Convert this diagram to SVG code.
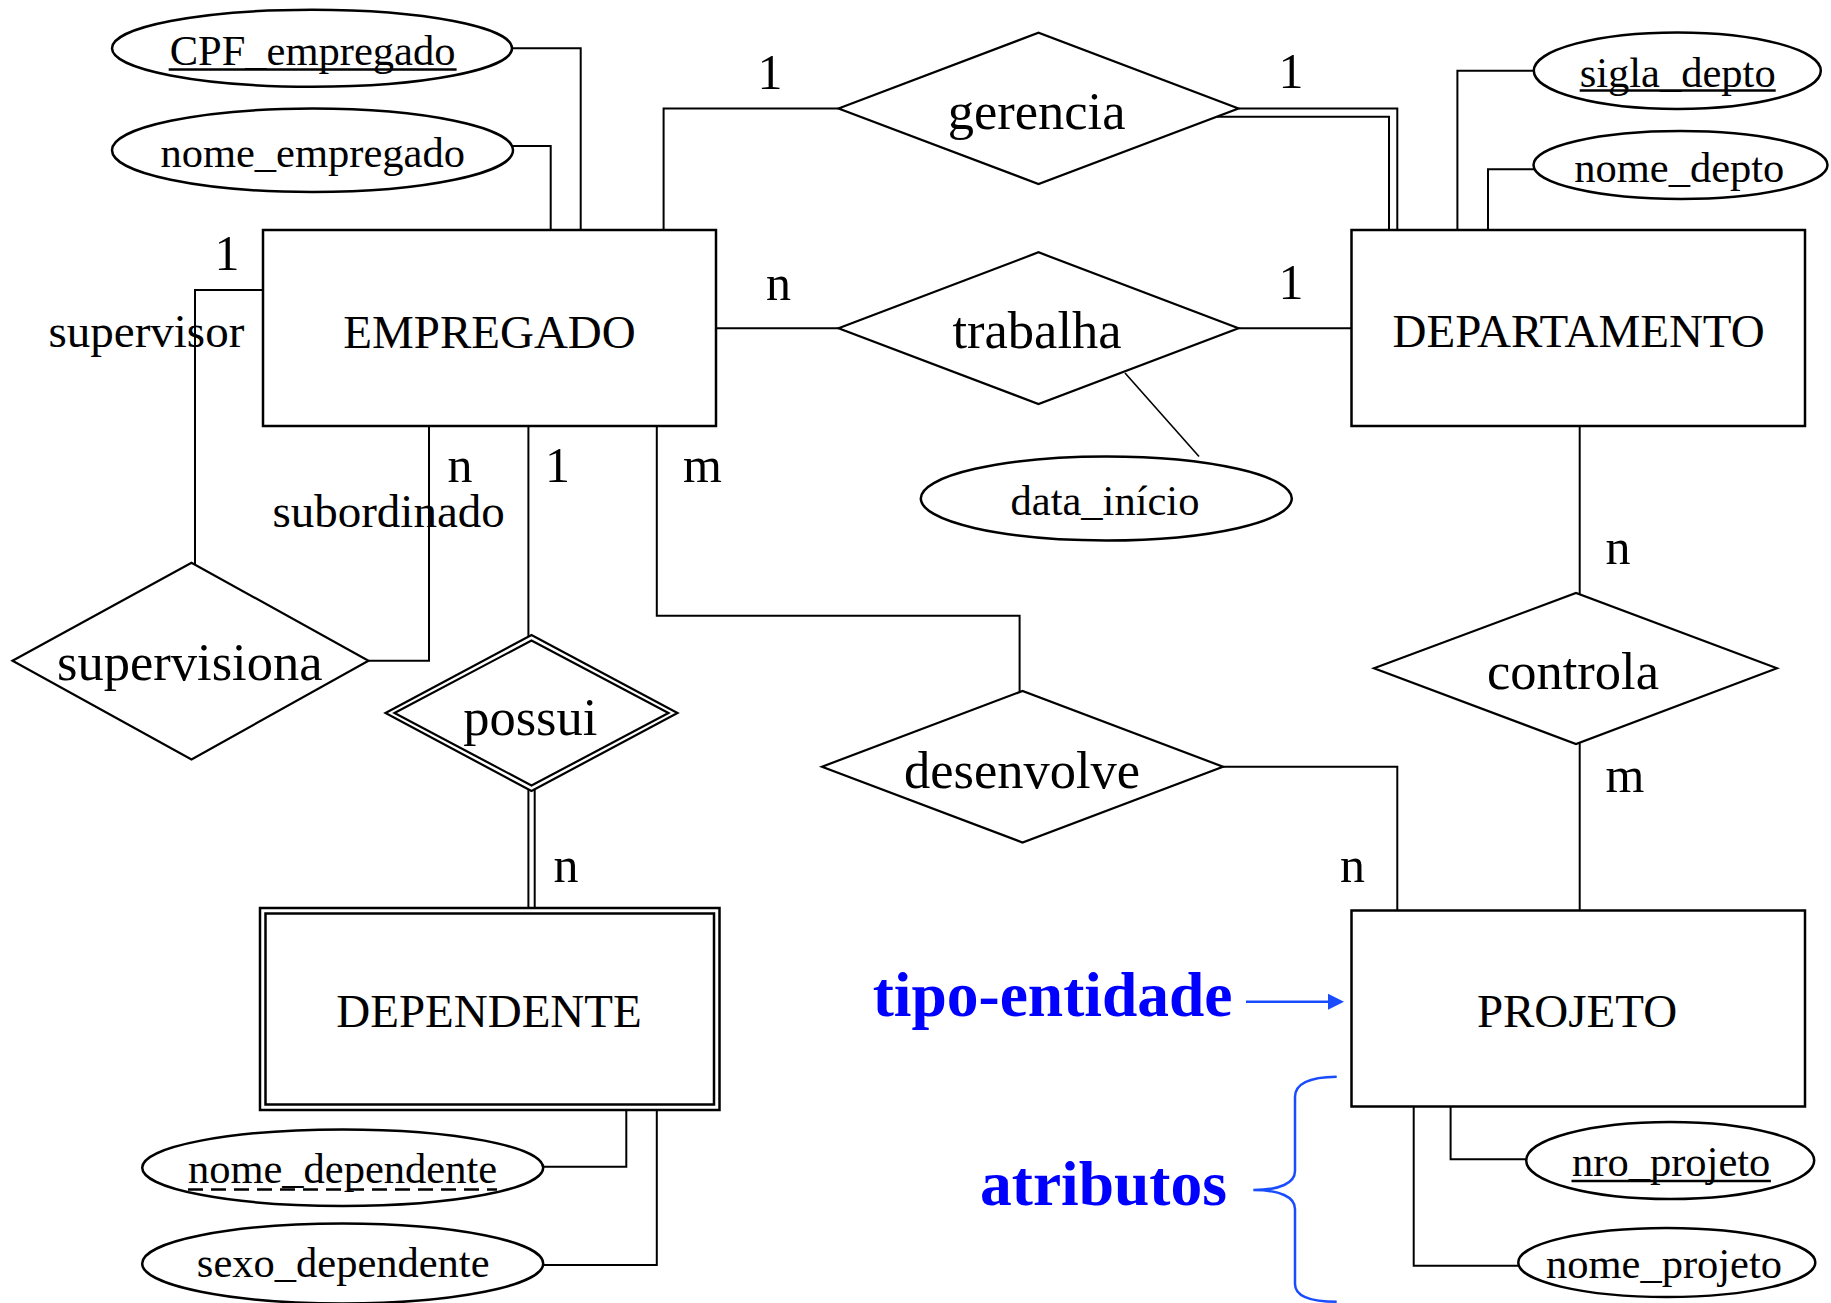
<svg xmlns="http://www.w3.org/2000/svg" width="1831" height="1303" viewBox="0 0 1831 1303">
<style>
.ent{fill:#fff;stroke:#000;stroke-width:2.5}
.rel{fill:#fff;stroke:#000;stroke-width:2.2}
.att{fill:#fff;stroke:#000;stroke-width:2.5}
.c{fill:none;stroke:#000;stroke-width:2}
.thin{fill:none;stroke:#000;stroke-width:1.6}
.ul{stroke:#000;stroke-width:2.5}
.dash{stroke:#000;stroke-width:2.5;stroke-dasharray:15 8}
text{font-family:"Liberation Serif","Times New Roman",serif;fill:#000;text-anchor:middle}
.te{font-size:47px}
.tr{font-size:52.5px}
.ta{font-size:42.5px}
.card{font-size:50px}
.role{font-size:47px;text-anchor:start}
.blue{font-weight:bold;font-size:63.5px;fill:#0000ff;text-anchor:start}
.ann{fill:none;stroke:#1a4cff;stroke-width:2.5}
</style>
<rect x="0" y="0" width="1831" height="1303" fill="#fff"/>

<g id="connectors">
  <path class="c" d="M511.5 48.3 H580.7 V230"/>
  <path class="c" d="M512 146 H550.7 V230"/>
  <path class="c" d="M663.6 230 V108.5 H838.5"/>
  <path class="c" d="M1238.5 108.5 H1397.3 V230"/>
  <path class="c" d="M1217 116.7 H1389 V230"/>
  <path class="c" d="M1534 70.7 H1457.4 V230"/>
  <path class="c" d="M1534 169.3 H1488 V230"/>
  <path class="c" d="M716 328.3 H838.5"/>
  <path class="c" d="M1238.5 328.3 H1351.5"/>
  <path class="thin" d="M1125 373 L1199 456.5"/>
  <path class="c" d="M263 290 H195 V564.5"/>
  <path class="c" d="M368.5 660.7 H429 V426"/>
  <path class="c" d="M528.4 426 V636.5"/>
  <path class="c" d="M528.4 789.5 V908"/>
  <path class="c" d="M534.7 789.5 V908"/>
  <path class="c" d="M656.8 426 V615.7 H1019.6 V692"/>
  <path class="c" d="M1223 766.7 H1397.3 V910.5"/>
  <path class="c" d="M1579.7 426 V594.5"/>
  <path class="c" d="M1579.7 742.6 V910.5"/>
  <path class="c" d="M543 1166.7 H626.3 V1110"/>
  <path class="c" d="M543 1265 H656.8 V1110"/>
  <path class="c" d="M1526.4 1159.3 H1450.6 V1106.5"/>
  <path class="c" d="M1518.2 1265.7 H1413.7 V1106.5"/>
</g>

<g id="EMPREGADO">
  <rect class="ent" x="263" y="230" width="453" height="196"/>
  <text class="te" x="489.5" y="348">EMPREGADO</text>
</g>
<g id="DEPARTAMENTO">
  <rect class="ent" x="1351.5" y="230" width="453.5" height="196"/>
  <text class="te" x="1578.6" y="346.7">DEPARTAMENTO</text>
</g>
<g id="PROJETO">
  <rect class="ent" x="1351.5" y="910.5" width="453.5" height="196"/>
  <text class="te" x="1577" y="1026.7">PROJETO</text>
</g>
<g id="DEPENDENTE">
  <rect class="ent" x="260" y="908" width="459.5" height="202"/>
  <rect class="ent" x="265.5" y="913.5" width="448.5" height="191"/>
  <text class="te" x="489" y="1026.7">DEPENDENTE</text>
</g>

<g id="gerencia">
  <polygon class="rel" points="838.5,108.5 1038.5,32.7 1238.5,108.5 1038.5,184"/>
  <text class="tr" x="1036.6" y="129">gerencia</text>
</g>
<g id="trabalha">
  <polygon class="rel" points="838.5,328.3 1038.5,252.3 1238.5,328.3 1038.5,404"/>
  <text class="tr" x="1037" y="348.3">trabalha</text>
</g>
<g id="supervisiona">
  <polygon class="rel" points="12.5,660.7 191.5,562.7 368.5,660.7 191.5,759.5"/>
  <text class="tr" x="189.8" y="680">supervisiona</text>
</g>
<g id="possui">
  <polygon class="rel" points="385.5,713 531.5,635 677.5,713 531.5,791"/>
  <polygon class="rel" points="394.5,713 531.5,640.5 668.5,713 531.5,785.5"/>
  <text class="tr" x="530.3" y="735">possui</text>
</g>
<g id="controla">
  <polygon class="rel" points="1374,668.3 1576,593 1777,668.3 1576,744"/>
  <text class="tr" x="1573" y="689.3">controla</text>
</g>
<g id="desenvolve">
  <polygon class="rel" points="822,766.7 1022.5,691 1223,766.7 1022.5,842.5"/>
  <text class="tr" x="1022" y="787.7">desenvolve</text>
</g>

<g id="CPF_empregado">
  <ellipse class="att" cx="312" cy="48.3" rx="200" ry="38.5"/>
  <text class="ta" x="312.6" y="65">CPF_empregado</text>
  <line class="ul" x1="168.7" y1="69.5" x2="456.6" y2="69.5"/>
</g>
<g id="nome_empregado">
  <ellipse class="att" cx="312.5" cy="150.3" rx="200.5" ry="41.7"/>
  <text class="ta" x="312.7" y="166.5">nome_empregado</text>
</g>
<g id="sigla_depto">
  <ellipse class="att" cx="1677.3" cy="70.7" rx="143.5" ry="38.3"/>
  <text class="ta" x="1677.7" y="86.5">sigla_depto</text>
  <line class="ul" x1="1579.7" y1="90.5" x2="1775.7" y2="90.5"/>
</g>
<g id="nome_depto">
  <ellipse class="att" cx="1680.5" cy="165" rx="147" ry="34"/>
  <text class="ta" x="1679.3" y="181.5">nome_depto</text>
</g>
<g id="data_inicio">
  <ellipse class="att" cx="1106.3" cy="498.5" rx="185.5" ry="42"/>
  <text class="ta" x="1105" y="515">data_início</text>
</g>
<g id="nome_dependente">
  <ellipse class="att" cx="342.7" cy="1167.7" rx="200.5" ry="38.3"/>
  <text class="ta" x="342.5" y="1183">nome_dependente</text>
  <line class="dash" x1="188" y1="1189.5" x2="497" y2="1189.5"/>
</g>
<g id="sexo_dependente">
  <ellipse class="att" cx="342.7" cy="1263.5" rx="200.5" ry="40"/>
  <text class="ta" x="343.2" y="1276.7">sexo_dependente</text>
</g>
<g id="nro_projeto">
  <ellipse class="att" cx="1670.2" cy="1160.5" rx="144" ry="38.5"/>
  <text class="ta" x="1671.2" y="1176">nro_projeto</text>
  <line class="ul" x1="1571.5" y1="1181" x2="1770.9" y2="1181"/>
</g>
<g id="nome_projeto">
  <ellipse class="att" cx="1666.8" cy="1262.5" rx="148.5" ry="34.5"/>
  <text class="ta" x="1664" y="1278.3">nome_projeto</text>
</g>

<g id="labels">
  <text class="card" x="227" y="270">1</text>
  <text class="role" x="48.5" y="346.7">supervisor</text>
  <text class="card" x="460" y="481.7">n</text>
  <text class="card" x="557.5" y="481.7">1</text>
  <text class="card" x="702.4" y="481.7">m</text>
  <text class="role" x="272.4" y="527.3">subordinado</text>
  <text class="card" x="566" y="881.7">n</text>
  <text class="card" x="770" y="88.5">1</text>
  <text class="card" x="1291" y="88.3">1</text>
  <text class="card" x="778.5" y="300">n</text>
  <text class="card" x="1291" y="299.3">1</text>
  <text class="card" x="1618" y="564">n</text>
  <text class="card" x="1625" y="791.7">m</text>
  <text class="card" x="1352.6" y="881.7">n</text>
</g>

<g id="annotations">
  <text class="blue" x="872.7" y="1016">tipo-entidade</text>
  <line class="ann" x1="1246" y1="1001.7" x2="1330" y2="1001.7"/>
  <polygon points="1344,1001.7 1328,993.7 1328,1009.7" fill="#1a4cff"/>
  <text class="blue" x="980" y="1205">atributos</text>
  <path class="ann" d="M1336.7 1076.7 C1310 1077 1295 1083 1295 1097 V1171 C1295 1183 1280 1190 1253.3 1190 C1280 1190 1295 1197 1295 1209 V1284 C1295 1296 1310 1301.7 1336.7 1301.7"/>
</g>
</svg>
